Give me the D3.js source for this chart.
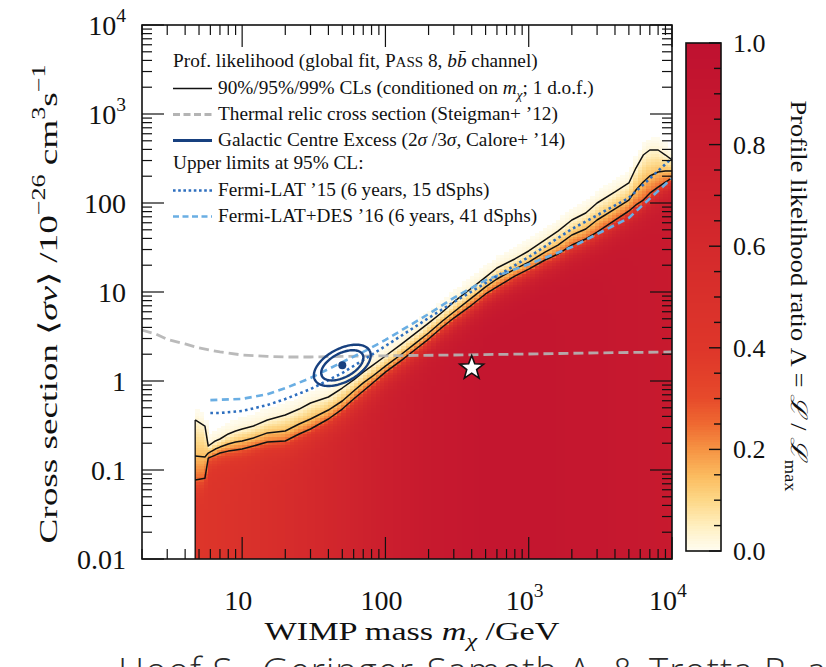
<!DOCTYPE html>
<html>
<head>
<meta charset="utf-8">
<script src="https://cdn.jsdelivr.net/npm/d3@7/dist/d3.min.js"></script>
<style>
  html, body { margin: 0; padding: 0; background: #fff; }
  svg { display: block; }
</style>
</head>
<body>
<svg id="fig" width="826" height="667"></svg>
<script>
// ---------------- data ----------------
const massDomain = [2, 1e4];          // WIMP mass / GeV
const svDomain = [0.01, 1e4];         // <sigma v> / 1e-26 cm^3 s^-1
const scanMassMin = 4.7;              // lower mass edge of the profile-likelihood scan

// Confidence-level contours of the profile likelihood (upper edge in <sigma v>)
const clMass = [4.7, 5.5, 5.8, 6.5, 7, 8, 9, 10, 12, 15, 20, 25, 30, 40, 50, 60, 70, 80,
                100, 130, 160, 200, 250, 300, 400, 500, 600, 800, 1000, 1300, 1600, 2000,
                2500, 3000, 4000, 5000, 5600, 6300, 7000, 8000, 9000, 10000];
const cl99 = [0.365, 0.312, 0.186, 0.212, 0.223, 0.254, 0.274, 0.289, 0.312, 0.365, 0.415, 0.484,
              0.566, 0.661, 0.834, 1.03, 1.26, 1.47, 1.91, 2.61, 3.38, 4.48, 5.96, 7.73, 11.1,
              14.7, 18.6, 23.5, 28.9, 38.4, 48.4, 64.4, 77.2, 100, 133, 168, 247, 346, 394, 394, 346, 304];
const cl95 = [0.144, 0.140, 0.155, 0.172, 0.181, 0.196, 0.206, 0.212, 0.229, 0.261, 0.274, 0.329,
              0.374, 0.472, 0.596, 0.772, 0.951, 1.11, 1.47, 2.01, 2.61, 3.46, 4.72, 5.96, 8.57,
              11.4, 14.0, 18.1, 21.7, 28.1, 33.7, 43.7, 51, 64.4, 85.7, 108, 140, 172, 201, 223, 229, 229];
const cl90 = [0.0773, 0.081, 0.136, 0.147, 0.155, 0.163, 0.168, 0.172, 0.186, 0.206, 0.212, 0.254,
              0.289, 0.374, 0.484, 0.628, 0.772, 0.925, 1.26, 1.72, 2.23, 2.96, 4.04, 5.10, 7.14,
              9.5, 11.4, 15.1, 18.1, 22.9, 26.7, 33.7, 39.4, 47.2, 64.4, 81.3, 95, 108, 129, 151, 172, 191];
// Likelihood ratio at each contour (1 d.o.f.)
const clLevels = { cl90: 0.258, cl95: 0.147, cl99: 0.036 };

// Likelihood ratio well inside the allowed region
const interiorMass = [5, 10, 20, 50, 100, 200, 500, 1000, 3000, 10000];
const interiorLevel = [0.42, 0.48, 0.55, 0.66, 0.76, 0.84, 0.90, 0.90, 0.88, 0.84];

// Thermal relic cross section (Steigman+ '12)
const thermalMass = [2, 2.5, 3, 4, 5, 7, 10, 15, 20, 30, 50, 100, 300, 1000, 3000, 10000];
const thermalSv = [3.74, 3.37, 2.93, 2.61, 2.35, 2.12, 1.96, 1.89, 1.86, 1.86, 1.89, 1.92, 1.96, 2.01, 2.07, 2.12];

// Upper limits at 95% CL
const flat15Mass = [6, 7, 10, 15, 20, 30, 50, 70, 100, 200, 300, 500, 1000, 2000, 5000, 10000];
const flat15Sv = [0.437, 0.437, 0.46, 0.537, 0.628, 0.81, 1.23, 1.72, 2.47, 5.1, 7.7, 12.6, 24.7, 51, 114, 320];
const flatDesMass = [6, 10, 15, 20, 30, 50, 70, 100, 200, 300, 500, 1000, 2000, 5000, 10000];
const flatDesSv = [0.61, 0.63, 0.71, 0.83, 1.08, 1.63, 2.12, 2.89, 5.66, 8.6, 13.6, 20.5, 32, 68, 190];

// Galactic Centre Excess region (2 sigma / 3 sigma), semi-axes in decades (log10 mass, log10 sv)
const gceCenter = { mass: 50, sv: 1.5 };
const gceAxes = [
  { label: '2σ', major: [0.142, 0.121], minor: [-0.039, 0.119] },
  { label: '3σ', major: [0.191, 0.164], minor: [-0.054, 0.164] }
];
const bestFit = { mass: 400, sv: 1.4 };

// Tick labels ([base, superscript])
const xTickValues = [10, 100, 1e3, 1e4];
const xTickText = [['10', ''], ['100', ''], ['10', '3'], ['10', '4']];
const yTickValues = [0.01, 0.1, 1, 10, 100, 1e3, 1e4];
const yTickText = [['0.01', ''], ['0.1', ''], ['1', ''], ['10', ''], ['100', ''], ['10', '3'], ['10', '4']];
const cbarTickValues = [0, 0.2, 0.4, 0.6, 0.8, 1.0];
const cbarTickText = ['0.0', '0.2', '0.4', '0.6', '0.8', '1.0'];

// Colour map for the likelihood ratio
const cmapStops = [0, 0.05, 0.1, 0.15, 0.2, 0.25, 0.3, 0.35, 0.4, 0.5, 0.6, 0.7, 0.8, 0.9, 1.0];
const cmapColors = ['#fffdf2', '#ffefc0', '#fdd888', '#fbba5e', '#f69444', '#ef6a31', '#e74b2b',
                    '#e23f2a', '#de362a', '#d9302b', '#d4292c', '#ce222d', '#c91c2e', '#c4162f', '#bf1130'];

// ---------------- layout ----------------
const plot = { left: 142, right: 672, top: 25, bottom: 559 };
const cbar = { left: 686, right: 721, top: 43, bottom: 551 };
const serif = "'Liberation Serif', 'Times New Roman', serif";

const svg = d3.select('#fig');
const defs = svg.append('defs');
const xScale = d3.scaleLog().domain(massDomain).range([plot.left, plot.right]);
const yScale = d3.scaleLog().domain(svDomain).range([plot.bottom, plot.top]);
const colour = d3.scaleLinear().domain(cmapStops).range(cmapColors).clamp(true);

defs.append('clipPath').attr('id', 'plotClip')
  .append('rect').attr('x', plot.left).attr('y', plot.top)
  .attr('width', plot.right - plot.left).attr('height', plot.bottom - plot.top);

// ---------------- helpers ----------------
const L = Math.log10;
function logInterp(xs, ys, x) {
  if (x <= xs[0]) return ys[0];
  if (x >= xs[xs.length - 1]) return ys[ys.length - 1];
  const i = d3.bisectRight(xs, x) - 1;
  const t = (L(x) - L(xs[i])) / (L(xs[i + 1]) - L(xs[i]));
  return Math.pow(10, L(ys[i]) + t * (L(ys[i + 1]) - L(ys[i])));
}
function linInterpLogX(xs, ys, x) {
  if (x <= xs[0]) return ys[0];
  if (x >= xs[xs.length - 1]) return ys[ys.length - 1];
  const i = d3.bisectRight(xs, x) - 1;
  const t = (L(x) - L(xs[i])) / (L(xs[i + 1]) - L(xs[i]));
  return ys[i] + t * (ys[i + 1] - ys[i]);
}
// profile likelihood ratio built from the traced contours
function lambdaAt(m, sv) {
  const d = L(sv);
  const o = L(logInterp(clMass, cl99, m));
  const c = L(logInterp(clMass, cl95, m));
  const n = L(logInterp(clMass, cl90, m));
  if (d >= o) { const t = (d - o) / 0.2; return t >= 1 ? 0 : clLevels.cl99 * (1 - t) * (1 - t); }
  if (d >= c) return clLevels.cl99 + (clLevels.cl95 - clLevels.cl99) * (o - d) / Math.max(o - c, 1e-6);
  if (d >= n) return clLevels.cl95 + (clLevels.cl90 - clLevels.cl95) * (c - d) / Math.max(c - n, 1e-6);
  const deep = linInterpLogX(interiorMass, interiorLevel, m);
  return clLevels.cl90 + (deep - clLevels.cl90) * (1 - Math.exp(-(n - d) / 0.11));
}

function addRich(parent, parts, size, attrs) {
  const t = parent.append('text');
  Object.entries(attrs).forEach(([k, v]) => t.attr(k, v));
  let shift = 0;
  parts.forEach(p => {
    const fs = (p.sub || p.sup) ? size * 0.7 : p.sc ? size * 0.78 : size;
    const target = p.sub ? size * 0.28 : p.sup ? -size * 0.45 : 0;
    const ts = t.append('tspan').attr('font-size', fs.toFixed(2))
      .attr('dy', (target - shift).toFixed(2)).text(p.t);
    if (p.it) ts.attr('font-style', 'italic');
    shift = target;
  });
  return t;
}
function fitSize(parent, parts, width, attrs, base = 20) {
  const t = addRich(parent, parts, base, attrs);
  const w = t.node().getComputedTextLength();
  t.remove();
  return base * width / w;
}
// text at a fixed size, stretched along its baseline to a given length
function addStretched(parent, parts, size, width, transform, anchor = 'middle') {
  const attrs = { x: 0, y: 0, 'text-anchor': anchor, 'font-family': serif, fill: '#111' };
  const probe = addRich(parent, parts, size, attrs);
  const sx = width / probe.node().getComputedTextLength();
  probe.remove();
  return addRich(parent, parts, size, Object.assign(attrs, { transform: `${transform} scale(${sx.toFixed(4)},1)` }));
}

// ---------------- heat map ----------------
const heat = svg.append('g').attr('clip-path', 'url(#plotClip)').attr('shape-rendering', 'crispEdges');
const lmMin = L(scanMassMin), lmMax = L(massDomain[1]);
const nCols = Math.round((lmMax - lmMin) / 0.03);
const lsMin = L(svDomain[0]), lsMax = L(svDomain[1]);
const nRows = Math.round((lsMax - lsMin) / 0.03);
const cells = [];
for (let i = 0; i < nCols; i++) {
  const a = lmMin + i * (lmMax - lmMin) / nCols, b = lmMin + (i + 1) * (lmMax - lmMin) / nCols;
  const mc = Math.pow(10, (a + b) / 2);
  for (let j = 0; j < nRows; j++) {
    const c = lsMin + j * (lsMax - lsMin) / nRows, e = lsMin + (j + 1) * (lsMax - lsMin) / nRows;
    const v = lambdaAt(mc, Math.pow(10, (c + e) / 2));
    if (v > 0.004) cells.push({ m0: Math.pow(10, a), m1: Math.pow(10, b), s0: Math.pow(10, c), s1: Math.pow(10, e), v });
  }
}
heat.selectAll('rect').data(cells).join('rect')
  .attr('x', d => xScale(d.m0))
  .attr('y', d => yScale(d.s1))
  .attr('width', d => xScale(d.m1) - xScale(d.m0) + 0.7)
  .attr('height', d => yScale(d.s0) - yScale(d.s1) + 0.7)
  .attr('fill', d => colour(d.v));

// ---------------- contours ----------------
const over = svg.append('g').attr('clip-path', 'url(#plotClip)');
const line = d3.line().x(d => xScale(d[0])).y(d => yScale(d[1]));
[cl99, cl95, cl90].forEach(arr => {
  over.append('path').attr('d', line(d3.zip(clMass, arr)))
    .attr('fill', 'none').attr('stroke', '#111').attr('stroke-width', 1.5).attr('stroke-linejoin', 'round');
});
over.append('line')
  .attr('x1', xScale(scanMassMin)).attr('x2', xScale(scanMassMin))
  .attr('y1', yScale(cl99[0])).attr('y2', yScale(svDomain[0]))
  .attr('stroke', '#111').attr('stroke-width', 1.3);

// ---------------- reference curves ----------------
over.append('path').attr('d', line(d3.zip(thermalMass, thermalSv)))
  .attr('fill', 'none').attr('stroke', '#b4b4b4').attr('stroke-opacity', 0.92)
  .attr('stroke-width', 2.8).attr('stroke-dasharray', '10,5');
over.append('path').attr('d', line(d3.zip(flatDesMass, flatDesSv)))
  .attr('fill', 'none').attr('stroke', '#6aaee3').attr('stroke-width', 2.6).attr('stroke-dasharray', '7,4.5');
over.append('path').attr('d', line(d3.zip(flat15Mass, flat15Sv)))
  .attr('fill', 'none').attr('stroke', '#2e6fbf').attr('stroke-width', 2.6).attr('stroke-dasharray', '2.6,3.2');

// Galactic Centre Excess ellipses
const cx0 = L(gceCenter.mass), cy0 = L(gceCenter.sv);
gceAxes.forEach(ax => {
  const pts = d3.range(0, 361, 3).map(a => {
    const t = a * Math.PI / 180;
    return [Math.pow(10, cx0 + ax.major[0] * Math.cos(t) + ax.minor[0] * Math.sin(t)),
            Math.pow(10, cy0 + ax.major[1] * Math.cos(t) + ax.minor[1] * Math.sin(t))];
  });
  over.append('path').attr('d', line(pts)).attr('fill', 'none')
    .attr('stroke', '#17407f').attr('stroke-width', 2.4);
});
over.append('circle').attr('cx', xScale(gceCenter.mass)).attr('cy', yScale(gceCenter.sv))
  .attr('r', 4).attr('fill', '#17407f');

// best-fit point
const starPts = d3.range(10).map(k => {
  const r = k % 2 === 0 ? 12.5 : 5.2, a = -Math.PI / 2 + k * Math.PI / 5;
  return [r * Math.cos(a), r * Math.sin(a)];
});
over.append('polygon')
  .attr('transform', `translate(${xScale(bestFit.mass)},${yScale(bestFit.sv)})`)
  .attr('points', starPts.map(p => p.join(',')).join(' '))
  .attr('fill', '#fff').attr('stroke', '#111').attr('stroke-width', 1.6).attr('stroke-linejoin', 'miter');

// ---------------- axes frame and ticks ----------------
const axes = svg.append('g').attr('stroke', '#111').attr('stroke-width', 1.2);
const isMajor = v => Math.abs(L(v) - Math.round(L(v))) < 1e-9;
xScale.ticks().forEach(v => {
  const x = xScale(v), len = isMajor(v) ? 22 : 10;
  axes.append('line').attr('x1', x).attr('x2', x).attr('y1', plot.bottom).attr('y2', plot.bottom - len);
  axes.append('line').attr('x1', x).attr('x2', x).attr('y1', plot.top).attr('y2', plot.top + len);
});
yScale.ticks().forEach(v => {
  const y = yScale(v), len = isMajor(v) ? 22 : 10;
  axes.append('line').attr('y1', y).attr('y2', y).attr('x1', plot.left).attr('x2', plot.left + len);
  axes.append('line').attr('y1', y).attr('y2', y).attr('x1', plot.right).attr('x2', plot.right - len);
});
svg.append('rect').attr('x', plot.left).attr('y', plot.top)
  .attr('width', plot.right - plot.left).attr('height', plot.bottom - plot.top)
  .attr('fill', 'none').attr('stroke', '#111').attr('stroke-width', 1.6);

const tickSize = 28;
xTickValues.forEach((v, i) => {
  const [b, s] = xTickText[i];
  const parts = [{ t: b }];
  if (s) parts.push({ t: s, sup: true });
  addRich(svg, parts, tickSize, { x: xScale(v) - 4, y: 610, 'text-anchor': 'middle', 'font-family': serif, fill: '#111' });
});
yTickValues.forEach((v, i) => {
  const [b, s] = yTickText[i];
  const parts = [{ t: b }];
  if (s) parts.push({ t: s, sup: true });
  addRich(svg, parts, tickSize, { x: 126, y: yScale(v) + 10, 'text-anchor': 'end', 'font-family': serif, fill: '#111' });
});

// ---------------- axis titles ----------------
const yTitle = [{ t: 'Cross section ⟨' }, { t: 'σv', it: true }, { t: '⟩ /10' }, { t: '−26', sup: true },
                { t: ' cm' }, { t: '3', sup: true }, { t: 's' }, { t: '−1', sup: true }];
addStretched(svg, yTitle, 26, 480, 'translate(57,304) rotate(-90)');

const xTitle = [{ t: 'WIMP mass ' }, { t: 'm', it: true }, { t: 'χ', it: true, sub: true }, { t: ' /GeV' }];
addStretched(svg, xTitle, 26, 295, 'translate(412,640)');

// ---------------- colour bar ----------------
const cScale = d3.scaleLinear().domain([0, 1]).range([cbar.bottom, cbar.top]);
const cbarSteps = d3.range(0, 200).map(k => k / 200);
svg.append('g').attr('shape-rendering', 'crispEdges').selectAll('rect').data(cbarSteps).join('rect')
  .attr('x', cbar.left).attr('width', cbar.right - cbar.left)
  .attr('y', d => cScale(d + 1 / 200)).attr('height', d => cScale(d) - cScale(d + 1 / 200) + 0.6)
  .attr('fill', d => colour(d + 0.5 / 200));
const cTicks = svg.append('g').attr('stroke', '#111').attr('stroke-width', 1.4);
d3.range(0, 21).map(k => k / 20).forEach(v => {
  const major = Math.abs(v * 5 - Math.round(v * 5)) < 1e-9;
  cTicks.append('line').attr('x1', cbar.right).attr('x2', cbar.right - (major ? 12 : 7))
    .attr('y1', cScale(v)).attr('y2', cScale(v));
});
svg.append('rect').attr('x', cbar.left).attr('y', cbar.top)
  .attr('width', cbar.right - cbar.left).attr('height', cbar.bottom - cbar.top)
  .attr('fill', 'none').attr('stroke', '#111').attr('stroke-width', 1.6);
cbarTickValues.forEach((v, i) => {
  svg.append('text').attr('x', 733).attr('y', cScale(v) + 9)
    .attr('font-family', serif).attr('font-size', 26).attr('fill', '#111').text(cbarTickText[i]);
});
const cTitle = [{ t: 'Profile likelihood ratio Λ = ' }, { t: 'ℒ', it: true }, { t: ' / ' }, { t: 'ℒ', it: true }, { t: 'max', sub: true }];
addStretched(svg, cTitle, 23, 390, 'translate(791,296) rotate(90)');

// ---------------- legend ----------------
const legendRows = [
  { parts: [{ t: 'Prof. likelihood (global fit, P' }, { t: 'ASS', sc: true }, { t: ' 8, ' }, { t: 'b', it: true }, { t: 'b\u0304', it: true }, { t: ' channel)' }], width: 364, y: 67, x: 173 },
  { parts: [{ t: '90%/95%/99% CLs (conditioned on ' }, { t: 'm', it: true }, { t: 'χ', it: true, sub: true }, { t: '; 1 d.o.f.)' }], width: 386, y: 94, x: 218,
    key: { stroke: '#111', width: 1.5, dash: null } },
  { parts: [{ t: 'Thermal relic cross section (Steigman+ ’12)' }], width: 346, y: 120, x: 218,
    key: { stroke: '#b4b4b4', width: 2.8, dash: '7,3.5' } },
  { parts: [{ t: 'Galactic Centre Excess (2' }, { t: 'σ', it: true }, { t: ' /3' }, { t: 'σ', it: true }, { t: ', Calore+ ’14)' }], width: 349, y: 146, x: 218,
    key: { stroke: '#17407f', width: 3, dash: null } },
  { parts: [{ t: 'Upper limits at 95% CL:' }], width: 189, y: 169, x: 173 },
  { parts: [{ t: 'Fermi-LAT ’15 (6 years, 15 dSphs)' }], width: 267, y: 196, x: 218,
    key: { stroke: '#2e6fbf', width: 2.6, dash: '2.6,2.6' } },
  { parts: [{ t: 'Fermi-LAT+DES ’16 (6 years, 41 dSphs)' }], width: 312, y: 222, x: 218,
    key: { stroke: '#6aaee3', width: 2.6, dash: '6,3.5' } }
];
const legend = svg.append('g');
const sizes = legendRows.map(r => fitSize(legend, r.parts, r.width, { x: r.x, y: r.y, 'font-family': serif }));
const legendSize = d3.mean(sizes);
legendRows.forEach(r => {
  addRich(legend, r.parts, legendSize, { x: r.x, y: r.y, 'font-family': serif, fill: '#111' });
  if (r.key) {
    const k = legend.append('line').attr('x1', 173).attr('x2', 212).attr('y1', r.y - 5.5).attr('y2', r.y - 5.5)
      .attr('stroke', r.key.stroke).attr('stroke-width', r.key.width);
    if (r.key.dash) k.attr('stroke-dasharray', r.key.dash);
  }
});

// ---------------- credit line ----------------
const sans = "'Open Sans', 'Noto Sans', sans-serif";
const probe = svg.append('text').attr('font-family', sans).attr('font-weight', 300).attr('font-size', 30)
  .attr('letter-spacing', 1).text('Hoof S., Geringer-Sameth A. & Trotta R.');
const credSize = 30 * 687 / probe.node().getComputedTextLength();
probe.remove();
svg.append('text').attr('x', 118).attr('y', 684).attr('font-family', sans).attr('font-weight', 300)
  .attr('font-size', credSize).attr('letter-spacing', 1).attr('fill', '#2a2a2a')
  .text('Hoof S., Geringer-Sameth A. & Trotta R. arXiv');
</script>
</body>
</html>
